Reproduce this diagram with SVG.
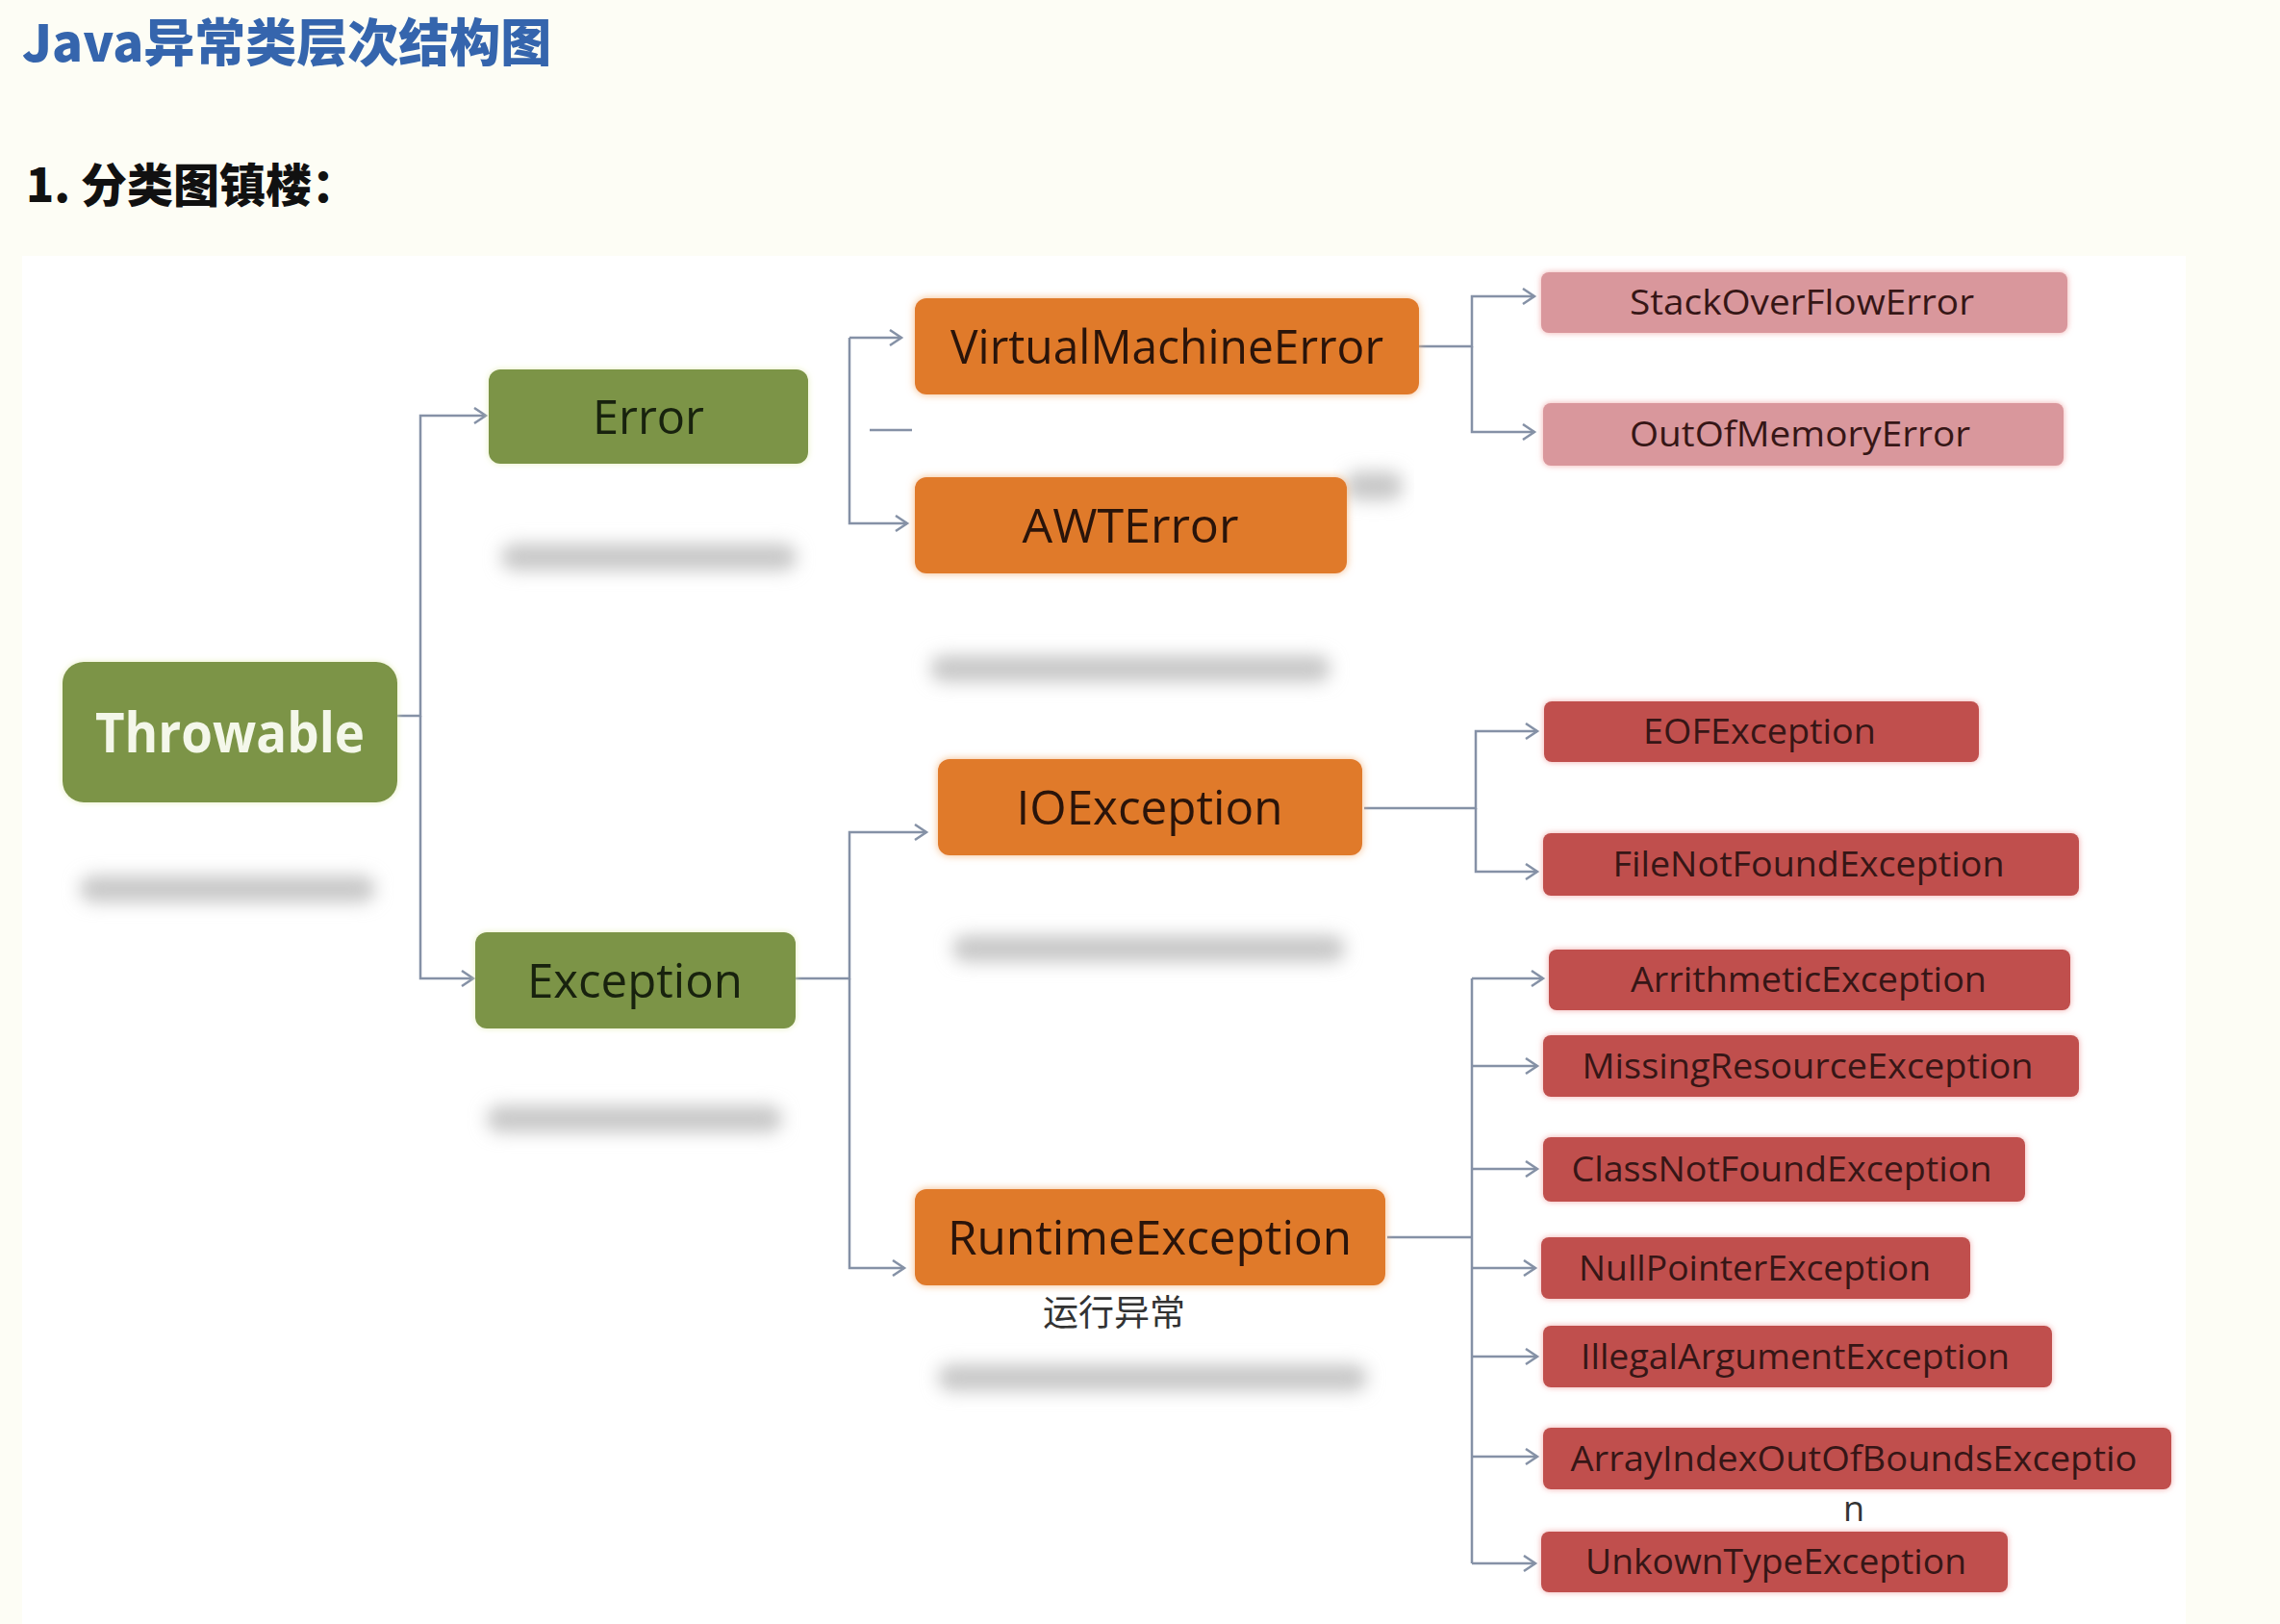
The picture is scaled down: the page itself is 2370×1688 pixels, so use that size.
<svg xmlns="http://www.w3.org/2000/svg" width="2370" height="1688" viewBox="0 0 2370 1688">
<defs>
<style>
.green{fill:#7b9446}
.orange{fill:#e07a2c}
.pink{fill:#d9979c}
.red{fill:#c0504d}
.t{font-family:"Open Sans","Noto Sans","Liberation Sans",sans-serif;text-anchor:middle}
.big{font-size:50px;fill:#2a140a}
.gtxt{font-size:50px;fill:#18220e}
.small{font-size:36px;fill:#361616}
.conn{fill:none;stroke:#8591a6;stroke-width:2.5}
.shade{fill:#c8c8c8;filter:url(#blur)}
</style>
<filter id="blur" x="-20%" y="-200%" width="140%" height="500%"><feGaussianBlur stdDeviation="9"/></filter>
<filter id="glowO" x="-10%" y="-30%" width="120%" height="160%"><feDropShadow dx="0" dy="0" stdDeviation="4" flood-color="#f2b27a" flood-opacity="0.9"/></filter>
<filter id="glowR" x="-10%" y="-30%" width="120%" height="160%"><feDropShadow dx="0" dy="0" stdDeviation="3" flood-color="#f0a0a0" flood-opacity="0.9"/></filter>
<filter id="glowG" x="-10%" y="-30%" width="120%" height="160%"><feDropShadow dx="0" dy="0" stdDeviation="3" flood-color="#e4edb8" flood-opacity="0.9"/></filter>
<marker id="arr" markerUnits="userSpaceOnUse" markerWidth="16" markerHeight="20" refX="13" refY="9" orient="auto"><path d="M1 1 L13 9 L1 17" fill="none" stroke="#8591a6" stroke-width="2.5"/></marker>
</defs>
<rect x="0" y="0" width="2370" height="1688" fill="#fdfdf5"/>
<rect x="23" y="266" width="2249" height="1422" fill="#ffffff"/>
<text x="23" y="64" font-family="'Noto Sans CJK SC','Noto Sans',sans-serif" font-weight="900" font-size="53" fill="#3565ad">Java异常类层次结构图</text>
<text x="27" y="210" font-family="'Noto Sans CJK SC','Noto Sans',sans-serif" font-weight="900" font-size="48" fill="#111111">1. 分类图镇楼：</text>

<g id="shadows">
<rect class="shade" x="83" y="910" width="307" height="28" rx="14"/>
<rect class="shade" x="521" y="565" width="307" height="28" rx="14"/>
<rect class="shade" x="506" y="1149" width="307" height="28" rx="14"/>
<rect class="shade" x="967" y="681" width="416" height="28" rx="14"/>
<rect class="shade" x="990" y="972" width="408" height="28" rx="14"/>
<rect class="shade" x="975" y="1418" width="446" height="28" rx="14"/>
<rect class="shade" x="1398" y="490" width="60" height="30" rx="14"/>
</g>

<g id="connectors">
<path class="conn" d="M413 744 H437 V432 H505" marker-end="url(#arr)"/>
<path class="conn" d="M437 744 V1017 H492" marker-end="url(#arr)"/>
<path class="conn" d="M883 351 H937" marker-end="url(#arr)"/>
<path class="conn" d="M883 351 V544 H943" marker-end="url(#arr)"/>
<path class="conn" d="M904 447 H948"/>
<path class="conn" d="M1475 360 H1530 V308 H1595" marker-end="url(#arr)"/>
<path class="conn" d="M1530 360 V449 H1595" marker-end="url(#arr)"/>
<path class="conn" d="M827 1017 H883 V865 H963" marker-end="url(#arr)"/>
<path class="conn" d="M883 1017 V1318 H940" marker-end="url(#arr)"/>
<path class="conn" d="M1418 840 H1534 V760 H1598" marker-end="url(#arr)"/>
<path class="conn" d="M1534 840 V906 H1598" marker-end="url(#arr)"/>
<path class="conn" d="M1442 1286 H1530"/>
<path class="conn" d="M1530 1017 V1625"/>
<path class="conn" d="M1530 1017 H1604" marker-end="url(#arr)"/>
<path class="conn" d="M1530 1108 H1598" marker-end="url(#arr)"/>
<path class="conn" d="M1530 1215 H1598" marker-end="url(#arr)"/>
<path class="conn" d="M1530 1318 H1596" marker-end="url(#arr)"/>
<path class="conn" d="M1530 1410 H1598" marker-end="url(#arr)"/>
<path class="conn" d="M1530 1514 H1598" marker-end="url(#arr)"/>
<path class="conn" d="M1530 1625 H1596" marker-end="url(#arr)"/>
</g>

<g id="throwable"><rect class="green" x="65" y="688" width="348" height="146" rx="22" filter="url(#glowG)"/><text class="t" x="239" y="782" font-size="58" font-weight="bold" fill="#f4f7ea" textLength="280" lengthAdjust="spacingAndGlyphs">Throwable</text></g>
<g id="error"><rect class="green" x="508" y="384" width="332" height="98" rx="12" filter="url(#glowG)"/><text class="t gtxt" x="674" y="451" textLength="116" lengthAdjust="spacingAndGlyphs">Error</text></g>
<g id="exception"><rect class="green" x="494" y="969" width="333" height="100" rx="12" filter="url(#glowG)"/><text class="t gtxt" x="660" y="1037" textLength="224" lengthAdjust="spacingAndGlyphs">Exception</text></g>

<g id="vme"><rect class="orange" x="951" y="310" width="524" height="100" rx="12" filter="url(#glowO)"/><text class="t big" x="1213" y="378" textLength="450" lengthAdjust="spacingAndGlyphs">VirtualMachineError</text></g>
<g id="awterror"><rect class="orange" x="951" y="496" width="449" height="100" rx="12" filter="url(#glowO)"/><text class="t big" x="1175" y="564" textLength="225" lengthAdjust="spacingAndGlyphs">AWTError</text></g>
<g id="ioexception"><rect class="orange" x="975" y="789" width="441" height="100" rx="12" filter="url(#glowO)"/><text class="t big" x="1195" y="857" textLength="277" lengthAdjust="spacingAndGlyphs">IOException</text></g>
<g id="runtimeexception"><rect class="orange" x="951" y="1236" width="489" height="100" rx="12" filter="url(#glowO)"/><text class="t big" x="1195" y="1304" textLength="420" lengthAdjust="spacingAndGlyphs">RuntimeException</text>
<text x="1158" y="1378" font-family="'Noto Sans CJK SC',sans-serif" font-size="37" fill="#333333" text-anchor="middle">运行异常</text></g>

<g id="stackoverflowerror"><rect class="pink" x="1602" y="283" width="547" height="63" rx="8" filter="url(#glowR)"/><text class="t small" x="1873" y="327" textLength="358" lengthAdjust="spacingAndGlyphs">StackOverFlowError</text></g>
<g id="outofmemoryerror"><rect class="pink" x="1604" y="419" width="541" height="65" rx="8" filter="url(#glowR)"/><text class="t small" x="1871" y="464" textLength="354" lengthAdjust="spacingAndGlyphs">OutOfMemoryError</text></g>
<g id="eofexception"><rect class="red" x="1605" y="729" width="452" height="63" rx="8" filter="url(#glowR)"/><text class="t small" x="1829" y="773" textLength="242" lengthAdjust="spacingAndGlyphs">EOFException</text></g>
<g id="filenotfoundexception"><rect class="red" x="1604" y="866" width="557" height="65" rx="8" filter="url(#glowR)"/><text class="t small" x="1880" y="911" textLength="407" lengthAdjust="spacingAndGlyphs">FileNotFoundException</text></g>
<g id="arithmeticexception"><rect class="red" x="1610" y="987" width="542" height="63" rx="8" filter="url(#glowR)"/><text class="t small" x="1880" y="1031" textLength="370" lengthAdjust="spacingAndGlyphs">ArrithmeticException</text></g>
<g id="missingresourceexception"><rect class="red" x="1604" y="1076" width="557" height="64" rx="8" filter="url(#glowR)"/><text class="t small" x="1879" y="1121" textLength="469" lengthAdjust="spacingAndGlyphs">MissingResourceException</text></g>
<g id="classnotfoundexception"><rect class="red" x="1604" y="1182" width="501" height="67" rx="8" filter="url(#glowR)"/><text class="t small" x="1852" y="1228" textLength="437" lengthAdjust="spacingAndGlyphs">ClassNotFoundException</text></g>
<g id="nullpointerexception"><rect class="red" x="1602" y="1286" width="446" height="64" rx="8" filter="url(#glowR)"/><text class="t small" x="1824" y="1331" textLength="366" lengthAdjust="spacingAndGlyphs">NullPointerException</text></g>
<g id="illegalargumentexception"><rect class="red" x="1604" y="1378" width="529" height="64" rx="8" filter="url(#glowR)"/><text class="t small" x="1866" y="1423" textLength="446" lengthAdjust="spacingAndGlyphs">IllegalArgumentException</text></g>
<g id="arrayindexoutofboundsexception"><rect class="red" x="1604" y="1484" width="653" height="64" rx="8" filter="url(#glowR)"/><text class="t small" x="1927" y="1529" textLength="589" lengthAdjust="spacingAndGlyphs">ArrayIndexOutOfBoundsExceptio</text>
<text class="t" x="1927" y="1581" font-size="36" fill="#333333">n</text></g>
<g id="unkowntypeexception"><rect class="red" x="1602" y="1592" width="485" height="63" rx="8" filter="url(#glowR)"/><text class="t small" x="1846" y="1636" textLength="396" lengthAdjust="spacingAndGlyphs">UnkownTypeException</text></g>
</svg>
